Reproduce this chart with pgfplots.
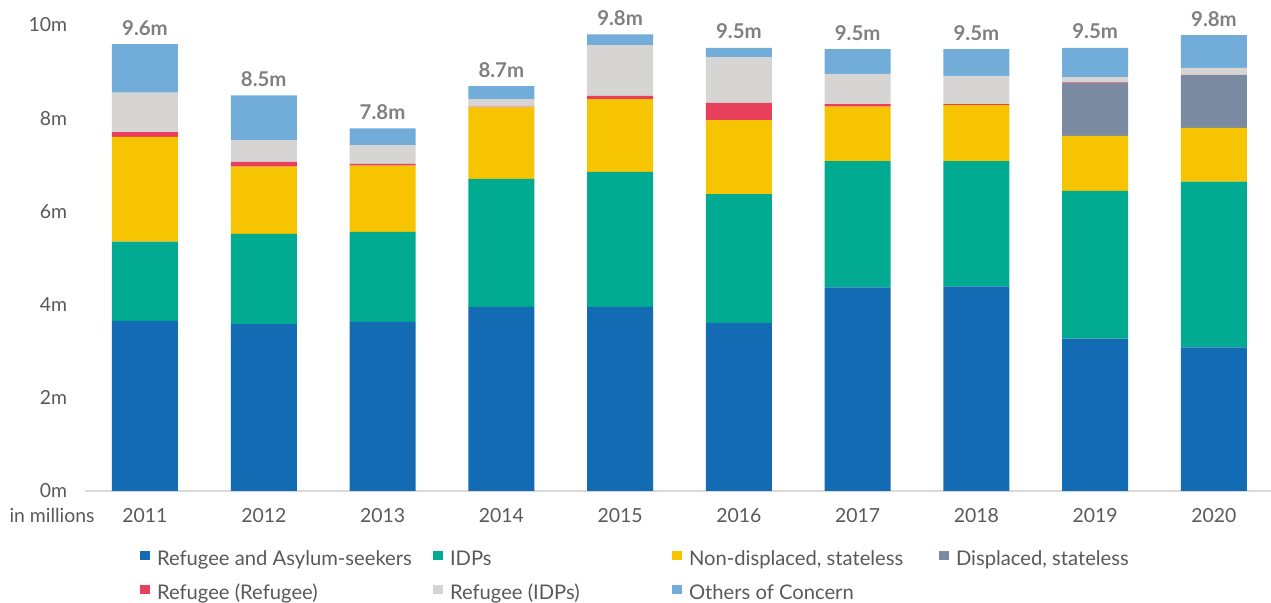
\documentclass[border=0pt]{standalone}
\usepackage{fontspec}
\setmainfont{Lato}
\usepackage{pgfplots}
\pgfplotsset{compat=1.18}
\definecolor{cRef}{RGB}{19,108,179}
\definecolor{cIDP}{RGB}{0,171,146}
\definecolor{cNon}{RGB}{246,196,0}
\definecolor{cDisp}{RGB}{122,138,160}
\definecolor{cRR}{RGB}{232,64,90}
\definecolor{cRI}{RGB}{214,213,211}
\definecolor{cOth}{RGB}{114,173,218}
\definecolor{txt}{RGB}{89,89,89}
\definecolor{tot}{RGB}{128,128,128}
\definecolor{axl}{RGB}{217,217,217}
\newcommand{\tickfont}{\fontsize{9.7}{11.6}\selectfont}
\newcommand{\legfont}{\fontsize{10.1}{12}\selectfont}
\begin{document}
\begin{tikzpicture}
\begin{axis}[
  at={(0,0)}, anchor=south west,
  scale only axis, width=593pt, height=233pt,
  ybar stacked, bar width=33pt,
  xmin=-0.505, xmax=9.48, ymin=0, ymax=10,
  xtick={0,...,9},
  xticklabels={2011,2012,2013,2014,2015,2016,2017,2018,2019,2020},
  ytick={0,2,4,6,8,10},
  yticklabels={0m,2m,4m,6m,8m,10m},
  /pgf/number format/assume math mode=true,
  major tick length=0pt,
  axis x line*=bottom, axis y line*=left,
  x axis line style={draw=axl, line width=0.7pt, -},
  y axis line style={draw=none},
  xticklabel style={font=\tickfont, text=txt, anchor=base, yshift=-16pt},
  yticklabel style={font=\tickfont, text=txt, xshift=-5.4pt},
  clip=false,
  legend columns=4,
  legend cell align=left,
  legend style={at={(0.0464,-0.1275)}, anchor=north west, draw=none, fill=none,
    inner sep=0pt, outer sep=0pt, font=\legfont, text=txt,
    nodes={inner sep=0pt, text height=7.5pt, text depth=2.5pt},
    row sep=7pt,
    /tikz/every odd column/.append style={column sep=3.5pt}},
  legend image code/.code={\fill[#1] (0pt,0pt) rectangle (5pt,4.5pt);},
]
\addplot[fill=cRef, draw=none] coordinates {(0,3.65) (1,3.58) (2,3.63) (3,3.95) (4,3.95) (5,3.61) (6,4.37) (7,4.39) (8,3.27) (9,3.08)};
\addlegendentry{\makebox[138pt][l]{Refugee and Asylum-seekers}}
\addplot[fill=cIDP, draw=none] coordinates {(0,1.70) (1,1.94) (2,1.93) (3,2.75) (4,2.90) (5,2.76) (6,2.71) (7,2.69) (8,3.17) (9,3.56)};
\addlegendentry{\makebox[111pt][l]{IDPs}}
\addplot[fill=cNon, draw=none] coordinates {(0,2.25) (1,1.44) (2,1.42) (3,1.53) (4,1.56) (5,1.59) (6,1.17) (7,1.20) (8,1.18) (9,1.15)};
\addlegendentry{\makebox[125pt][l]{Non-displaced, stateless}}
\addplot[fill=cDisp, draw=none] coordinates {(0,0) (1,0) (2,0) (3,0) (4,0) (5,0) (6,0) (7,0) (8,1.14) (9,1.14)};
\addlegendentry{Displaced, stateless}
\addplot[fill=cRR, draw=none] coordinates {(0,0.10) (1,0.10) (2,0.04) (3,0.02) (4,0.07) (5,0.37) (6,0.05) (7,0.02) (8,0.01) (9,0.00)};
\addlegendentry{\makebox[138pt][l]{Refugee (Refugee)}}
\addplot[fill=cRI, draw=none] coordinates {(0,0.85) (1,0.47) (2,0.40) (3,0.16) (4,1.09) (5,0.98) (6,0.65) (7,0.61) (8,0.11) (9,0.15)};
\addlegendentry{\makebox[111pt][l]{Refugee (IDPs)}}
\addplot[fill=cOth, draw=none] coordinates {(0,1.04) (1,0.96) (2,0.36) (3,0.28) (4,0.23) (5,0.20) (6,0.53) (7,0.57) (8,0.63) (9,0.70)};
\addlegendentry{\makebox[125pt][l]{Others of Concern}}
\end{axis}
\begin{axis}[
  at={(0,0)}, anchor=south west,
  scale only axis, width=593pt, height=233pt,
  xmin=-0.505, xmax=9.48, ymin=0, ymax=10,
  hide axis, clip=false,
]
\addplot[draw=none, mark=none, nodes near coords, point meta=explicit symbolic,
  nodes near coords style={anchor=base, yshift=4.5pt, font=\fontsize{10.2}{12}\selectfont\bfseries, text=tot}]
  coordinates {(0,9.59)[9.6m] (1,8.49)[8.5m] (2,7.78)[7.8m] (3,8.69)[8.7m] (4,9.80)[9.8m] (5,9.51)[9.5m] (6,9.48)[9.5m] (7,9.48)[9.5m] (8,9.51)[9.5m] (9,9.78)[9.8m]};
\end{axis}
\node[anchor=base east, font=\tickfont, text=txt, inner sep=0pt] at (5pt,-16pt) {in millions};
\pgfresetboundingbox
\path[use as bounding box] (-42.5pt,-56pt) rectangle (593pt,245.5pt);
\end{tikzpicture}
\end{document}
